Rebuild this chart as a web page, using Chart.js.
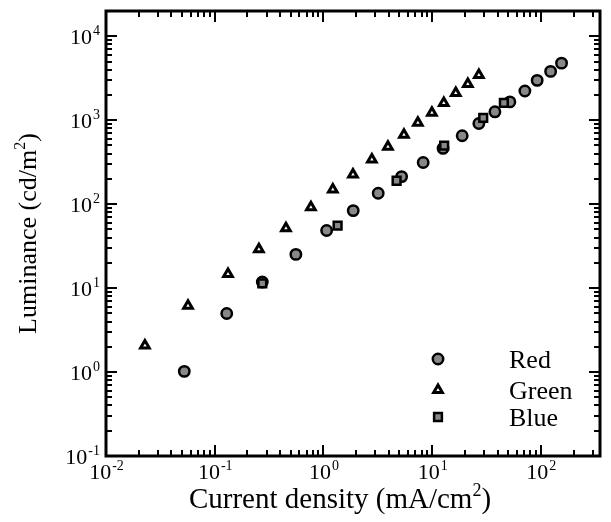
<!DOCTYPE html>
<html>
<head>
<meta charset="utf-8">
<script src="https://cdn.jsdelivr.net/npm/chart.js@4.4.1/dist/chart.umd.min.js"></script>
<style>
  html, body { margin: 0; padding: 0; background: #fff; }
  #wrap { width: 611px; height: 522px; }
</style>
</head>
<body>
<div id="wrap"><canvas id="lumChart"></canvas></div>
<script>
// Current density (mA/cm2) vs luminance (cd/m2)
const redJ = [0.0525, 0.129, 0.274, 0.558, 1.07, 1.88, 3.19, 5.24, 8.27, 12.6, 18.9, 26.9, 37.8, 51.9, 71.3, 92.5, 123, 155];
const redL = [1.02, 4.99, 11.8, 25.2, 48.5, 83.8, 135, 213, 313, 462, 653, 914, 1259, 1652, 2230, 2985, 3815, 4786];
const greenJ = [0.0228, 0.0568, 0.1325, 0.255, 0.452, 0.767, 1.22, 1.87, 2.79, 3.92, 5.50, 7.39, 9.95, 12.8, 16.5, 21.3, 26.9];
const greenL = [2.07, 6.15, 14.7, 29.1, 51.7, 91.6, 150, 225, 340, 484, 671, 931, 1224, 1607, 2113, 2700, 3450];
const blueJ = [0.274, 1.35, 4.71, 12.9, 29.5, 45.7];
const blueL = [11.4, 55.6, 190, 497, 1068, 1607];
const seriesNames = ['Red', 'Green', 'Blue'];
const xDecades = [-2, -1, 0, 1, 2];
const yDecades = [-1, 0, 1, 2, 3, 4];

const FONT = '"Liberation Serif", "Times New Roman", serif';

function toPoints(xs, ys) {
  return xs.map((v, i) => ({ x: v, y: ys[i] }));
}

// "10" with a raised exponent, y is the baseline
function powLabel(ctx, exp, x, y, align) {
  const e = exp < 0 ? '-' + (-exp) : String(exp);
  ctx.font = '22px ' + FONT;
  const wBase = ctx.measureText('10').width;
  ctx.font = '14px ' + FONT;
  const wExp = ctx.measureText(e).width;
  const left = align === 'right' ? x - wBase - wExp : x - (wBase + wExp) / 2;
  ctx.textAlign = 'left';
  ctx.textBaseline = 'alphabetic';
  ctx.font = '22px ' + FONT;
  ctx.fillText('10', left, y);
  ctx.font = '14px ' + FONT;
  ctx.fillText(e, left + wBase + 1, y - 9);
}

// text with a superscript 2 before the closing bracket
function supTitle(ctx, pre, sup, post, cx, y, size) {
  ctx.font = size + 'px ' + FONT;
  const w1 = ctx.measureText(pre).width;
  const w3 = ctx.measureText(post).width;
  ctx.font = Math.round(size * 0.62) + 'px ' + FONT;
  const w2 = ctx.measureText(sup).width;
  let left = cx - (w1 + w2 + w3) / 2;
  ctx.textAlign = 'left';
  ctx.textBaseline = 'alphabetic';
  ctx.font = size + 'px ' + FONT;
  ctx.fillText(pre, left, y);
  ctx.font = Math.round(size * 0.62) + 'px ' + FONT;
  ctx.fillText(sup, left + w1, y - size * 0.42);
  ctx.font = size + 'px ' + FONT;
  ctx.fillText(post, left + w1 + w2, y);
}

const framePlugin = {
  id: 'frame',
  afterDraw(chart) {
    const { ctx, chartArea: a } = chart;
    const xs = chart.scales.x, ys = chart.scales.y;
    ctx.save();
    ctx.strokeStyle = '#000';
    ctx.fillStyle = '#000';

    // minor and major ticks on all four sides, pointing inward
    ctx.lineWidth = 2;
    ctx.beginPath();
    xDecades.forEach(e => {
      for (let m = 1; m <= 9; m++) {
        const v = m * Math.pow(10, e);
        if (v > xs.max) break;
        const px = Math.round(xs.getPixelForValue(v));
        const len = m === 1 ? 11 : 6;
        ctx.moveTo(px, a.bottom); ctx.lineTo(px, a.bottom - len);
        ctx.moveTo(px, a.top); ctx.lineTo(px, a.top + len);
      }
    });
    yDecades.forEach(e => {
      for (let m = 1; m <= 9; m++) {
        const v = m * Math.pow(10, e);
        if (v >= ys.max) break;
        const py = Math.round(ys.getPixelForValue(v));
        const len = m === 1 ? 11 : 6;
        ctx.moveTo(a.left, py); ctx.lineTo(a.left + len, py);
        ctx.moveTo(a.right, py); ctx.lineTo(a.right - len, py);
      }
    });
    ctx.stroke();

    ctx.lineWidth = 3;
    ctx.strokeRect(a.left, a.top, a.right - a.left, a.bottom - a.top);

    // tick labels
    xDecades.forEach(e => powLabel(ctx, e, xs.getPixelForValue(Math.pow(10, e)), a.bottom + 23, 'center'));
    yDecades.forEach(e => powLabel(ctx, e, a.left - 7, ys.getPixelForValue(Math.pow(10, e)) + 8, 'right'));

    // axis titles
    supTitle(ctx, 'Current density (mA/cm', '2', ')', (a.left + a.right) / 2 - 13, a.bottom + 52, 29);
    ctx.save();
    ctx.translate(36, (a.top + a.bottom) / 2);
    ctx.rotate(-Math.PI / 2);
    supTitle(ctx, 'Luminance (cd/m', '2', ')', 0, 0, 26);
    ctx.restore();

    // legend inside the plot
    const rowsY = [359, 390, 417];
    chart.data.datasets.forEach((ds, i) => {
      ctx.fillStyle = ds.backgroundColor;
      ctx.strokeStyle = ds.borderColor;
      ctx.lineWidth = ds.borderWidth;
      Chart.helpers.drawPoint(ctx, {
        pointStyle: ds.pointStyle, radius: ds.pointRadius, borderWidth: ds.borderWidth, rotation: 0
      }, 438, rowsY[i]);
      ctx.fillStyle = '#000';
      ctx.font = '26px ' + FONT;
      ctx.textAlign = 'left';
      ctx.textBaseline = 'alphabetic';
      ctx.fillText(seriesNames[i], 509, rowsY[i] + 9);
    });
    ctx.restore();
  }
};

new Chart(document.getElementById('lumChart'), {
  type: 'scatter',
  data: {
    datasets: [
      {
        label: seriesNames[0], data: toPoints(redJ, redL), order: 2,
        pointStyle: 'circle', pointRadius: 5.2, backgroundColor: '#888888', borderColor: '#000', borderWidth: 2.5
      },
      {
        label: seriesNames[1], data: toPoints(greenJ, greenL), order: 1,
        pointStyle: 'triangle', pointRadius: 5, backgroundColor: '#ffffff', borderColor: '#000', borderWidth: 3
      },
      {
        label: seriesNames[2], data: toPoints(blueJ, blueL), order: 0,
        pointStyle: 'rect', pointRadius: 5.5, backgroundColor: '#888888', borderColor: '#000', borderWidth: 2.5
      }
    ]
  },
  options: {
    responsive: true,
    maintainAspectRatio: false,
    animation: false,
    layout: { padding: { top: 11, right: 11, left: 0, bottom: 0 } },
    plugins: { legend: { display: false }, tooltip: { enabled: false } },
    scales: {
      x: {
        type: 'logarithmic', min: 0.01, max: 350, bounds: 'data',
        grid: { display: false }, border: { display: false }, ticks: { display: false },
        afterFit(scale) { scale.height = 66; }
      },
      y: {
        type: 'logarithmic', min: 0.1, max: 20000, bounds: 'data',
        grid: { display: false }, border: { display: false }, ticks: { display: false },
        afterFit(scale) { scale.width = 106; }
      }
    }
  },
  plugins: [framePlugin]
});
</script>
</body>
</html>
